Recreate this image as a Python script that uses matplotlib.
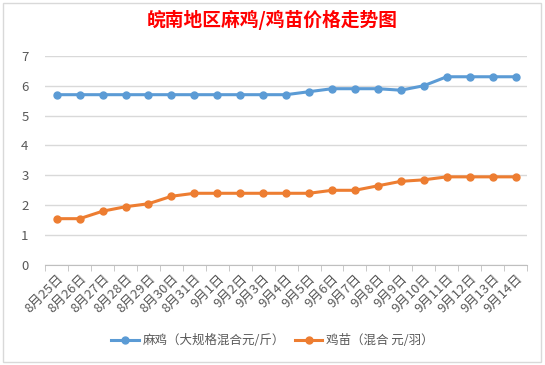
import matplotlib.pyplot as plt
from matplotlib.patches import Rectangle

plt.rcParams['font.family'] = ['Noto Sans CJK SC', 'DejaVu Sans']

dates = ['8月25日', '8月26日', '8月27日', '8月28日', '8月29日', '8月30日', '8月31日',
         '9月1日', '9月2日', '9月3日', '9月4日', '9月5日', '9月6日', '9月7日',
         '9月8日', '9月9日', '9月10日', '9月11日', '9月12日', '9月13日', '9月14日']
maji = [5.7, 5.7, 5.7, 5.7, 5.7, 5.7, 5.7, 5.7, 5.7, 5.7, 5.7, 5.8, 5.9, 5.9,
        5.9, 5.85, 6.0, 6.3, 6.3, 6.3, 6.3]
jimiao = [1.55, 1.55, 1.8, 1.95, 2.05, 2.3, 2.4, 2.4, 2.4, 2.4, 2.4, 2.4, 2.5, 2.5,
          2.65, 2.8, 2.85, 2.95, 2.95, 2.95, 2.95]

blue = '#5B9BD5'
orange = '#ED7D31'
grey_txt = '#595959'

fig = plt.figure(figsize=(5.45, 3.65), dpi=100)
fig.patches.append(Rectangle((0.005, 0.008), 0.988, 0.985, transform=fig.transFigure,
                             fill=False, edgecolor='#D9D9D9', linewidth=1))
ax = fig.add_axes([0.083, 0.274, 0.884, 0.573])

x = list(range(len(dates)))
ax.plot(x, maji, color=blue, lw=2.2, marker='o', ms=5, label='麻鸡（大规格混合元/斤）')
ax.plot(x, jimiao, color=orange, lw=2.2, marker='o', ms=5, label='鸡苗（混合 元/羽）')

ax.set_xlim(-0.5, len(dates) - 0.5)
ax.set_ylim(0, 7)
ax.set_yticks(range(0, 8))
ax.grid(axis='y', color='#D9D9D9', lw=1)
ax.set_axisbelow(True)
for s in ['top', 'right', 'left']:
    ax.spines[s].set_visible(False)
ax.spines['bottom'].set_color('#BFBFBF')

ax.set_xticks(x)
ax.set_xticklabels(dates, rotation=45, ha='right', rotation_mode='anchor',
                   fontsize=9.5, color=grey_txt)
ax.set_xticks([i - 0.5 for i in range(len(dates) + 1)], minor=True)
ax.tick_params(axis='x', which='major', length=0, pad=5)
ax.tick_params(axis='x', which='minor', length=4, color='#BFBFBF')
ax.tick_params(axis='y', length=0, labelsize=9.5, labelcolor=grey_txt, pad=12)

fig.text(0.5, 0.945, '皖南地区麻鸡/鸡苗价格走势图', ha='center', va='center',
         color='red', fontsize=13.5, fontweight='bold')

fig.legend(loc='center', bbox_to_anchor=(0.5, 0.066), ncol=2, frameon=False,
           fontsize=9, handlelength=2.2, columnspacing=0.8, handletextpad=0.3,
           labelcolor=grey_txt)

fig.savefig('out.png', dpi=100)
